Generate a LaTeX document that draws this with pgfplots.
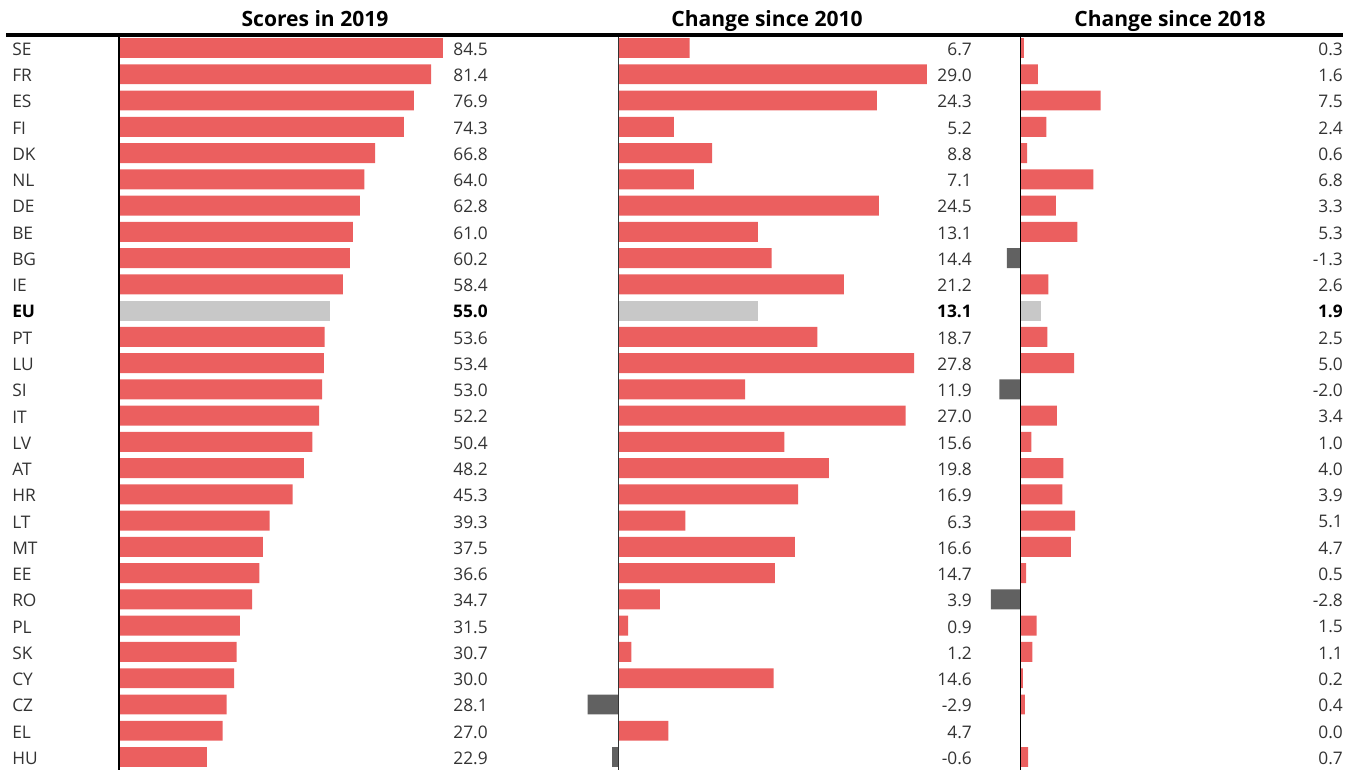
\documentclass[border=0pt]{standalone}
\usepackage{fontspec}
\setmainfont{Open Sans}
\usepackage{pgfplots}
\usepackage{pgfplotstable}
\pgfplotsset{compat=1.18}

\definecolor{barred}{HTML}{EB5F5F}
\definecolor{barneg}{HTML}{616161}
\definecolor{bareu}{HTML}{C8C8C8}
\definecolor{txt}{HTML}{333333}

% idx: row from the top, s19: score 2019, c10: change since 2010, c18: change since 2018
\pgfplotstableread{
idx code s19 c10 c18
0 SE 84.5 6.7 0.3
1 FR 81.4 29.0 1.6
2 ES 76.9 24.3 7.5
3 FI 74.3 5.2 2.4
4 DK 66.8 8.8 0.6
5 NL 64.0 7.1 6.8
6 DE 62.8 24.5 3.3
7 BE 61.0 13.1 5.3
8 BG 60.2 14.4 -1.3
9 IE 58.4 21.2 2.6
10 EU 55.0 13.1 1.9
11 PT 53.6 18.7 2.5
12 LU 53.4 27.8 5.0
13 SI 53.0 11.9 -2.0
14 IT 52.2 27.0 3.4
15 LV 50.4 15.6 1.0
16 AT 48.2 19.8 4.0
17 HR 45.3 16.9 3.9
18 LT 39.3 6.3 5.1
19 MT 37.5 16.6 4.7
20 EE 36.6 14.7 0.5
21 RO 34.7 3.9 -2.8
22 PL 31.5 0.9 1.5
23 SK 30.7 1.2 1.1
24 CY 30.0 14.6 0.2
25 CZ 28.1 -2.9 0.4
26 EL 27.0 4.7 0.0
27 HU 22.9 -0.6 0.7
}\data

\pgfplotsset{
  panel/.style={hide axis, scale only axis, clip=false, anchor=north west,
    height=551.45pt, ymin=-0.5, ymax=27.5, y dir=reverse,
    /pgf/number format/fixed, /pgf/number format/fixed zerofill,
    /pgf/number format/precision=1, /pgf/number format/assume math mode=true},
  hbar/.style={xbar, bar width=0.76, bar shift=0pt, draw=none},
  lab/.style={draw=none, mark=none, nodes near coords,
    every node near coord/.append style={anchor=#1, inner sep=0pt, text=txt,
      yshift=-0.9pt, font=\fontsize{13}{15}\selectfont}},
  eulab/.style={every node near coord/.append style={text=black,
      font=\bfseries\fontsize{13}{15}\selectfont}},
}

\begin{document}
\begin{tikzpicture}
\path[use as bounding box] (0,0) rectangle (1022.25pt,579pt);

% Scores in 2019
\begin{axis}[panel, at={(89.25pt,552.85pt)}, width=285.75pt, xmin=0, xmax=99.37]
\addplot[hbar, fill=barred] table[y=idx, x expr={\thisrow{idx}==10 ? nan : \thisrow{s19}}] {\data};
\addplot[hbar, fill=bareu] table[y=idx, x expr={\thisrow{idx}==10 ? \thisrow{s19} : nan}] {\data};
\addplot[lab=east, point meta=explicit] table[x expr=96.24, y expr={\thisrow{idx}==10 ? nan : \thisrow{idx}}, meta=s19] {\data};
\addplot[lab=east, eulab, point meta=explicit] table[x expr=96.24, y expr={\thisrow{idx}==10 ? \thisrow{idx} : nan}, meta=s19] {\data};
\addplot[lab=west, point meta=explicit symbolic] table[x expr=-27.91, y expr={\thisrow{idx}==10 ? nan : \thisrow{idx}}, meta=code] {\data};
\addplot[lab=west, eulab, point meta=explicit symbolic] table[x expr=-27.91, y expr={\thisrow{idx}==10 ? \thisrow{idx} : nan}, meta=code] {\data};
\draw[black, line width=1pt] (axis cs:0,-0.45) -- (axis cs:0,27.5);
\end{axis}

% Change since 2010
\begin{axis}[panel, at={(420pt,552.85pt)}, width=330pt, xmin=-5.503, xmax=35.89]
\addplot[hbar, fill=barred] table[y=idx, x expr={(\thisrow{idx}==10 || \thisrow{c10}<0) ? nan : \thisrow{c10}}] {\data};
\addplot[hbar, fill=barneg] table[y=idx, x expr={\thisrow{c10}<0 ? \thisrow{c10} : nan}] {\data};
\addplot[hbar, fill=bareu] table[y=idx, x expr={\thisrow{idx}==10 ? \thisrow{c10} : nan}] {\data};
\addplot[lab=east, point meta=explicit] table[x expr=33.26, y expr={\thisrow{idx}==10 ? nan : \thisrow{idx}}, meta=c10] {\data};
\addplot[lab=east, eulab, point meta=explicit] table[x expr=33.26, y expr={\thisrow{idx}==10 ? \thisrow{idx} : nan}, meta=c10] {\data};
\draw[black!80, line width=1pt] (axis cs:0,-0.45) -- (axis cs:0,27.5);
\end{axis}

% Change since 2018
\begin{axis}[panel, at={(735pt,552.85pt)}, width=287.25pt, xmin=-3.814, xmax=32.08]
\addplot[hbar, fill=barred] table[y=idx, x expr={(\thisrow{idx}==10 || \thisrow{c18}<0) ? nan : \thisrow{c18}}] {\data};
\addplot[hbar, fill=barneg] table[y=idx, x expr={\thisrow{c18}<0 ? \thisrow{c18} : nan}] {\data};
\addplot[hbar, fill=bareu] table[y=idx, x expr={\thisrow{idx}==10 ? \thisrow{c18} : nan}] {\data};
\addplot[lab=east, point meta=explicit] table[x expr=30.21, y expr={\thisrow{idx}==10 ? nan : \thisrow{idx}}, meta=c18] {\data};
\addplot[lab=east, eulab, point meta=explicit] table[x expr=30.21, y expr={\thisrow{idx}==10 ? \thisrow{idx} : nan}, meta=c18] {\data};
\draw[black, line width=1pt] (axis cs:0,-0.45) -- (axis cs:0,27.5);
\end{axis}

% titles and top rule
\draw[black, line width=2.8pt] (4.5pt,552.97pt) -- (1007.25pt,552.97pt);
\node[anchor=base, font=\bfseries\fontsize{15.8}{18}\selectfont] at (236.25pt,558.8pt) {Scores in 2019};
\node[anchor=base, font=\bfseries\fontsize{15.8}{18}\selectfont] at (575.25pt,558.8pt) {Change since 2010};
\node[anchor=base, font=\bfseries\fontsize{15.8}{18}\selectfont] at (877.5pt,558.8pt) {Change since 2018};
\end{tikzpicture}
\end{document}
